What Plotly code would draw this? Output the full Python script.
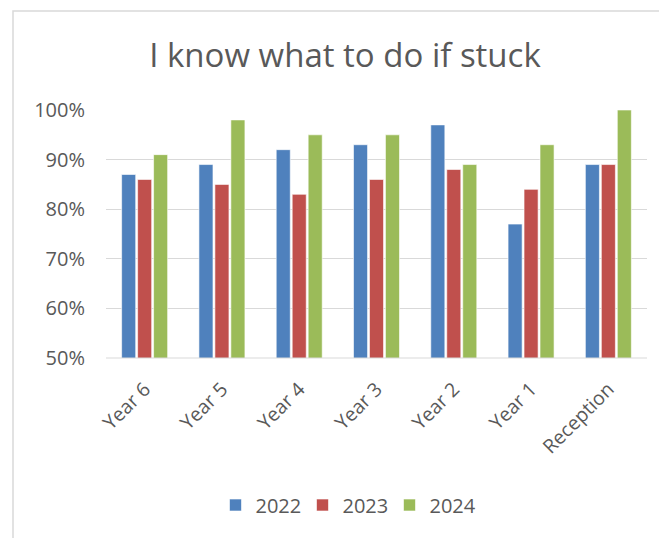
import plotly.graph_objects as go

categories = ["Year 6", "Year 5", "Year 4", "Year 3", "Year 2", "Year 1", "Reception"]
v2022 = [87, 89, 92, 93, 97, 77, 89]
v2023 = [86, 85, 83, 86, 88, 84, 89]
v2024 = [91, 98, 95, 95, 89, 93, 100]
series_names = ["2022", "2023", "2024"]
colors = ["#4F81BD", "#C0504D", "#9BBB59"]

# page body has an 8px margin, so draw the figure 8px smaller and shift coordinates
OFF = 8
W, H = 667 - OFF, 538 - OFF
L, T = 106 - OFF, 110 - OFF
R = W - (647 - OFF)
B = H - (358 - OFF)
pw, ph = W - L - R, H - T - B

def px2x(x):
    return (x - OFF - L) / pw

def px2y(y):
    return 1 - (y - OFF - T) / ph

fig = go.Figure()
for name, vals, c in zip(series_names, [v2022, v2023, v2024], colors):
    fig.add_trace(go.Bar(
        x=categories, y=[v / 100 for v in vals], name=name,
        marker=dict(color=c, line=dict(color="rgba(255,255,255,0.6)", width=1)),
    ))

font_family = "Open Sans, Liberation Sans, sans-serif"
fig.update_layout(
    width=W, height=H,
    margin=dict(l=L, r=R, t=T, b=B),
    paper_bgcolor="white", plot_bgcolor="white",
    barmode="group", bargap=0.38, bargroupgap=0.12,
    font=dict(family=font_family, color="#595959", size=19),
    title=dict(text="I know what to do if stuck", x=(345 - OFF) / W, xanchor="center",
               y=1 - (55 - OFF) / H, yanchor="middle",
               font=dict(size=33, color="#595959", family=font_family)),
    xaxis=dict(tickangle=-45, showgrid=False, showline=False, ticks="",
               tickfont=dict(size=19.5, color="#595959"), ticklabelstandoff=15),
    yaxis=dict(range=[0.5, 1.0], dtick=0.1, tickformat=".0%",
               gridcolor="#D9D9D9", gridwidth=1, showline=False, ticks="",
               zeroline=False, tickfont=dict(size=20, color="#595959"),
               ticklabelstandoff=20),
    legend=dict(orientation="h", x=px2x(346), xanchor="center",
                y=px2y(505), yanchor="middle",
                font=dict(size=20, color="#595959"),
                entrywidth=42, traceorder="normal"),
    showlegend=True,
)
fig.add_shape(type="line", xref="paper", yref="paper",
              x0=0, x1=1, y0=0, y1=0,
              line=dict(color="#D9D9D9", width=1))
fig.add_shape(type="rect", xref="paper", yref="paper",
              x0=px2x(13), x1=px2x(680), y0=px2y(11), y1=px2y(560),
              line=dict(color="#D9D9D9", width=1.5), layer="below")
fig.write_html("out.html")
